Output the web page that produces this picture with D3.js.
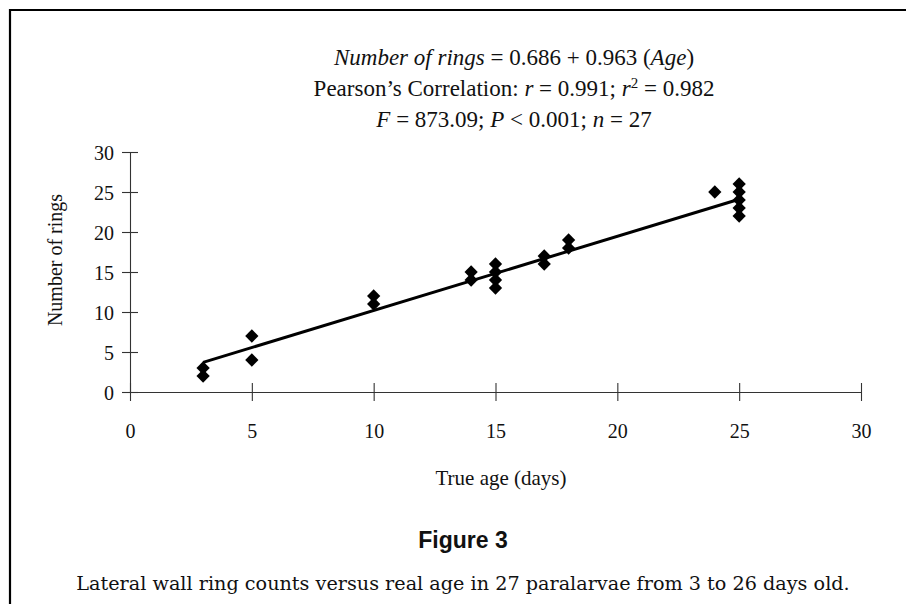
<!DOCTYPE html>
<html>
<head>
<meta charset="utf-8">
<script src="https://cdn.jsdelivr.net/npm/d3@7"></script>
<style>
  html, body { margin: 0; padding: 0; background: #fff; }
  svg { display: block; }
  text { fill: #111; }
</style>
</head>
<body>
<svg id="chart" width="906" height="604"></svg>
<script>
// True age (days) and counted rings, one entry per visible marker
var ages  = [3, 3, 5, 5, 10, 10, 14, 14, 15, 15, 15, 15, 17, 17, 18, 18, 24, 25, 25, 25, 25, 25];
var rings = [2, 3, 4, 7, 11, 12, 14, 15, 13, 14, 15, 16, 16, 17, 18, 19, 25, 22, 23, 24, 25, 26];

// printed regression: rings = intercept + slope * age
var intercept = 0.686;
var slope = 0.963;

// ends of the fitted line as drawn in the figure (age, rings)
var fitAges  = [3, 25];
var fitRings = [3.7, 24.1];

var xTicks = [0, 5, 10, 15, 20, 25, 30];
var yTicks = [0, 5, 10, 15, 20, 25, 30];

var SERIF = "'Liberation Serif', 'Times New Roman', serif";

var svg = d3.select("#chart");

// frame (top and left rule only)
svg.append("path")
    .attr("d", "M10,604 L10,10 L906,10")
    .attr("fill", "none")
    .attr("stroke", "#000")
    .attr("stroke-width", 2.2);

var x = d3.scaleLinear().domain([0, 30]).range([130, 861]);
var y = d3.scaleLinear().domain([0, 30]).range([392, 152]);

// x axis, ticks crossing the line
var xAxis = d3.axisBottom(x)
    .tickValues(xTicks)
    .tickSize(9)
    .tickSizeOuter(0)
    .tickPadding(0);

var gx = svg.append("g")
    .attr("transform", "translate(0," + y(0) + ")")
    .call(xAxis);
gx.select(".domain").attr("stroke", "#333").attr("stroke-width", 1.1);
gx.selectAll(".tick line").attr("y1", -9).attr("stroke", "#333").attr("stroke-width", 1.1);
gx.selectAll(".tick text")
    .attr("y", 46)
    .attr("dy", null)
    .style("font-family", SERIF)
    .style("font-size", "20px")
    .attr("fill", "#111");

// y axis
var yAxis = d3.axisLeft(y)
    .tickValues(yTicks)
    .tickSize(8)
    .tickSizeOuter(0)
    .tickPadding(8);

var gy = svg.append("g")
    .attr("transform", "translate(" + x(0) + ",0)")
    .call(yAxis);
gy.select(".domain").attr("stroke", "#333").attr("stroke-width", 1.1);
gy.selectAll(".tick line").attr("x1", 8).attr("stroke", "#333").attr("stroke-width", 1.1);
gy.selectAll(".tick text")
    .attr("dy", "0.36em")
    .style("font-family", SERIF)
    .style("font-size", "20px")
    .attr("fill", "#111");

// axis titles
svg.append("text")
    .attr("x", 501)
    .attr("y", 485)
    .attr("text-anchor", "middle")
    .style("font-family", SERIF)
    .style("font-size", "21px")
    .text("True age (days)");

svg.append("text")
    .attr("transform", "translate(62,260) rotate(-90)")
    .attr("text-anchor", "middle")
    .style("font-family", SERIF)
    .style("font-size", "20px")
    .text("Number of rings");

// regression line
var fit = d3.line()
    .x(function (i) { return x(fitAges[i]); })
    .y(function (i) { return y(fitRings[i]); });

svg.append("path")
    .datum(d3.range(fitAges.length))
    .attr("d", fit)
    .attr("fill", "none")
    .attr("stroke", "#000")
    .attr("stroke-width", 3);

// markers: filled diamonds
var diamond = d3.symbol().type(d3.symbolSquare).size(88);

svg.append("g")
    .selectAll("path")
    .data(d3.range(ages.length))
    .join("path")
    .attr("d", diamond)
    .attr("transform", function (i) {
        return "translate(" + x(ages[i]) + "," + y(rings[i]) + ") rotate(45)";
    })
    .attr("fill", "#000");

// statistics block
var stats = svg.append("g")
    .attr("text-anchor", "middle")
    .style("font-family", SERIF)
    .style("font-size", "23px");

var l1 = stats.append("text").attr("x", 514).attr("y", 65);
l1.append("tspan").style("font-style", "italic").text("Number of rings");
l1.append("tspan").text(" = " + intercept + " + " + slope + " (");
l1.append("tspan").style("font-style", "italic").text("Age");
l1.append("tspan").text(")");

var l2 = stats.append("text").attr("x", 514).attr("y", 96);
l2.append("tspan").text("Pearson\u2019s Correlation: ");
l2.append("tspan").style("font-style", "italic").text("r");
l2.append("tspan").text(" = 0.991; ");
l2.append("tspan").style("font-style", "italic").text("r");
l2.append("tspan").attr("dy", -8).style("font-size", "15px").text("2");
l2.append("tspan").attr("dy", 8).text(" = 0.982");

var l3 = stats.append("text").attr("x", 514).attr("y", 127);
l3.append("tspan").style("font-style", "italic").text("F");
l3.append("tspan").text(" = 873.09; ");
l3.append("tspan").style("font-style", "italic").text("P");
l3.append("tspan").text(" < 0.001; ");
l3.append("tspan").style("font-style", "italic").text("n");
l3.append("tspan").text(" = 27");

// figure caption
svg.append("text")
    .attr("x", 463)
    .attr("y", 548)
    .attr("text-anchor", "middle")
    .style("font-family", "'Liberation Sans', Arial, sans-serif")
    .style("font-weight", "bold")
    .style("font-size", "23px")
    .text("Figure 3");

var cap = svg.append("text")
    .attr("x", 463)
    .attr("y", 590)
    .attr("text-anchor", "middle")
    .style("font-family", "'DejaVu Serif', serif")
    .style("font-size", "19px")
    .text("Lateral wall ring counts versus real age in 27 paralarvae from 3 to 26 days old.");

// fit caption to the printed width
var capWidth = cap.node().getComputedTextLength();
cap.style("font-size", (19 * 774 / capWidth).toFixed(2) + "px");
</script>
</body>
</html>
